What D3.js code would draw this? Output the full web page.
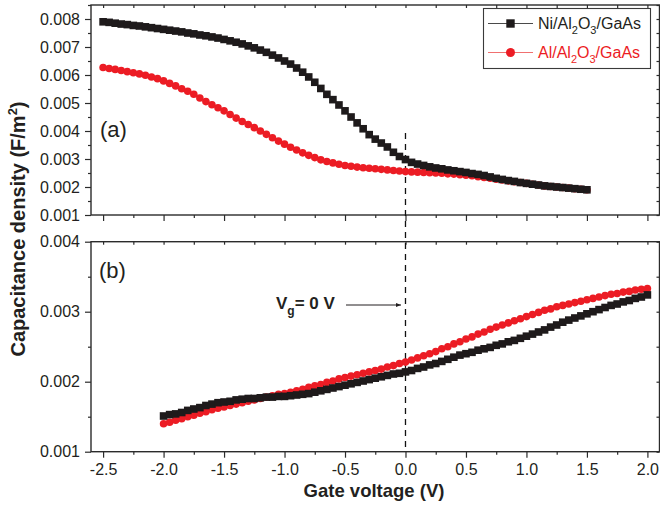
<!DOCTYPE html>
<html>
<head>
<meta charset="utf-8">
<script src="https://cdn.jsdelivr.net/npm/d3@7"></script>
<style>
  html, body { margin: 0; padding: 0; background: #fff; }
  svg { display: block; font-family: "Liberation Sans", Arial, sans-serif; }
</style>
</head>
<body>
<svg id="chart" width="660" height="506"></svg>
<script>
// Gate voltage sweeps (V)
const voltageA = [-2.50,-2.45,-2.40,-2.35,-2.30,-2.25,-2.20,-2.15,-2.10,-2.05,-2.00,-1.95,-1.90,-1.85,-1.80,-1.75,-1.70,-1.65,-1.60,-1.55,-1.50,-1.45,-1.40,-1.35,-1.30,-1.25,-1.20,-1.15,-1.10,-1.05,-1.00,-0.95,-0.90,-0.85,-0.80,-0.75,-0.70,-0.65,-0.60,-0.55,-0.50,-0.45,-0.40,-0.35,-0.30,-0.25,-0.20,-0.15,-0.10,-0.05,0.00,0.05,0.10,0.15,0.20,0.25,0.30,0.35,0.40,0.45,0.50,0.55,0.60,0.65,0.70,0.75,0.80,0.85,0.90,0.95,1.00,1.05,1.10,1.15,1.20,1.25,1.30,1.35,1.40,1.45,1.50];
const voltageB = [-2.00,-1.95,-1.90,-1.85,-1.80,-1.75,-1.70,-1.65,-1.60,-1.55,-1.50,-1.45,-1.40,-1.35,-1.30,-1.25,-1.20,-1.15,-1.10,-1.05,-1.00,-0.95,-0.90,-0.85,-0.80,-0.75,-0.70,-0.65,-0.60,-0.55,-0.50,-0.45,-0.40,-0.35,-0.30,-0.25,-0.20,-0.15,-0.10,-0.05,0.00,0.05,0.10,0.15,0.20,0.25,0.30,0.35,0.40,0.45,0.50,0.55,0.60,0.65,0.70,0.75,0.80,0.85,0.90,0.95,1.00,1.05,1.10,1.15,1.20,1.25,1.30,1.35,1.40,1.45,1.50,1.55,1.60,1.65,1.70,1.75,1.80,1.85,1.90,1.95,2.00];

// Panel (a): capacitance density (F/m^2)
const niA = [0.00790,0.00788,0.00785,0.00782,0.00780,0.00777,0.00775,0.00772,0.00769,0.00766,0.00763,0.00760,0.00757,0.00754,0.00750,0.00747,0.00743,0.00740,0.00736,0.00732,0.00727,0.00722,0.00717,0.00711,0.00704,0.00697,0.00689,0.00681,0.00671,0.00661,0.00650,0.00639,0.00625,0.00610,0.00593,0.00574,0.00552,0.00531,0.00512,0.00493,0.00472,0.00450,0.00429,0.00408,0.00387,0.00371,0.00357,0.00343,0.00324,0.00309,0.00298,0.00288,0.00282,0.00277,0.00272,0.00268,0.00265,0.00261,0.00258,0.00255,0.00252,0.00248,0.00245,0.00241,0.00236,0.00231,0.00227,0.00223,0.00220,0.00216,0.00213,0.00210,0.00207,0.00204,0.00202,0.00200,0.00198,0.00196,0.00194,0.00192,0.00190];
const alA = [0.00627,0.00623,0.00620,0.00616,0.00612,0.00608,0.00604,0.00599,0.00593,0.00587,0.00579,0.00570,0.00561,0.00551,0.00542,0.00531,0.00518,0.00505,0.00494,0.00483,0.00472,0.00459,0.00446,0.00434,0.00423,0.00412,0.00400,0.00388,0.00376,0.00364,0.00353,0.00342,0.00332,0.00322,0.00313,0.00305,0.00297,0.00291,0.00286,0.00281,0.00277,0.00274,0.00271,0.00269,0.00267,0.00265,0.00263,0.00261,0.00259,0.00257,0.00255,0.00254,0.00253,0.00252,0.00251,0.00250,0.00249,0.00247,0.00246,0.00244,0.00242,0.00240,0.00237,0.00234,0.00231,0.00228,0.00225,0.00222,0.00219,0.00216,0.00213,0.00210,0.00207,0.00204,0.00202,0.00200,0.00198,0.00196,0.00194,0.00192,0.00190];

// Panel (b): capacitance density (F/m^2)
const niB = [0.00151,0.00153,0.00154,0.00156,0.00159,0.00161,0.00163,0.00166,0.00168,0.00170,0.00171,0.00172,0.00174,0.00175,0.00176,0.00176,0.00177,0.00178,0.00178,0.00179,0.00179,0.00180,0.00181,0.00182,0.00183,0.00185,0.00187,0.00189,0.00191,0.00193,0.00195,0.00197,0.00199,0.00201,0.00203,0.00205,0.00207,0.00209,0.00211,0.00212,0.00214,0.00216,0.00219,0.00221,0.00224,0.00226,0.00229,0.00232,0.00235,0.00238,0.00240,0.00242,0.00245,0.00247,0.00249,0.00252,0.00254,0.00257,0.00259,0.00262,0.00265,0.00268,0.00271,0.00274,0.00278,0.00281,0.00285,0.00288,0.00291,0.00294,0.00297,0.00300,0.00303,0.00306,0.00309,0.00311,0.00314,0.00316,0.00319,0.00321,0.00324];
const alB = [0.00140,0.00142,0.00145,0.00147,0.00150,0.00152,0.00155,0.00157,0.00160,0.00162,0.00164,0.00166,0.00168,0.00170,0.00172,0.00174,0.00176,0.00178,0.00180,0.00182,0.00183,0.00185,0.00187,0.00189,0.00192,0.00194,0.00196,0.00199,0.00201,0.00204,0.00206,0.00208,0.00210,0.00212,0.00214,0.00216,0.00218,0.00221,0.00223,0.00226,0.00228,0.00231,0.00234,0.00237,0.00240,0.00243,0.00247,0.00250,0.00254,0.00257,0.00261,0.00264,0.00268,0.00271,0.00275,0.00278,0.00281,0.00284,0.00287,0.00290,0.00293,0.00296,0.00299,0.00302,0.00304,0.00307,0.00309,0.00311,0.00313,0.00315,0.00317,0.00319,0.00321,0.00323,0.00325,0.00326,0.00328,0.00329,0.00331,0.00332,0.00333];

// Tick values
const xTicks = [-2.5,-2.0,-1.5,-1.0,-0.5,0.0,0.5,1.0,1.5,2.0];
const xMinor = [-2.25,-1.75,-1.25,-0.75,-0.25,0.25,0.75,1.25,1.75];
const yTicksA = [0.001,0.002,0.003,0.004,0.005,0.006,0.007,0.008];
const yMinorA = [0.0015,0.0025,0.0035,0.0045,0.0055,0.0065,0.0075,0.0085];
const yTicksB = [0.001,0.002,0.003,0.004];
const yMinorB = [0.0015,0.0025,0.0035];

const seriesNames = ["Ni/Al|2|O|3|/GaAs", "Al/Al|2|O|3|/GaAs"];
const BLACK = "#1e1a1b", RED = "#ec1c24", FRAME = "#2b2b2b";

const svg = d3.select("#chart");
const FONT = "'Liberation Sans', Arial, sans-serif";

const left = 91, right = 659.5;
const x = d3.scaleLinear().domain([-2.6, 2.1]).range([left, right]);
const yA = d3.scaleLinear().domain([0.001, 0.0085]).range([215, 5]);
const yB = d3.scaleLinear().domain([0.001, 0.004]).range([451.7, 241.7]);

function drawPanel(y, yTicks, yMinor, showXLabels) {
  const [y0, y1] = y.range();
  const g = svg.append("g");
  // left axis (outward ticks)
  const la = g.append("g").attr("transform", `translate(${left},0)`)
    .call(d3.axisLeft(y).tickValues(yTicks).tickSize(6).tickPadding(5)
      .tickFormat(d3.format(".3f")));
  la.select(".domain").remove();
  la.selectAll("text").attr("font-size", 16).attr("font-family", FONT).attr("fill", "#231f20");
  const lm = g.append("g").attr("transform", `translate(${left},0)`)
    .call(d3.axisLeft(y).tickValues(yMinor).tickSize(3).tickFormat(""));
  lm.select(".domain").remove();
  // right axis (inward ticks)
  const ra = g.append("g").attr("transform", `translate(${right},0)`)
    .call(d3.axisLeft(y).tickValues(yTicks.concat(yMinor)).tickSize(3).tickFormat(""));
  ra.select(".domain").remove();
  // bottom axis (outward ticks)
  const ba = g.append("g").attr("transform", `translate(0,${y0})`)
    .call(d3.axisBottom(x).tickValues(xTicks).tickSize(6).tickPadding(6)
      .tickFormat(showXLabels ? d3.format(".1f") : ""));
  ba.select(".domain").remove();
  ba.selectAll("text").attr("font-size", 16).attr("font-family", FONT).attr("fill", "#231f20")
    .text(d => showXLabels ? d3.format(".1f")(d).replace("−", "-") : "");
  const bm = g.append("g").attr("transform", `translate(0,${y0})`)
    .call(d3.axisBottom(x).tickValues(xMinor).tickSize(3).tickFormat(""));
  bm.select(".domain").remove();
  // top axis (inward ticks)
  const ta = g.append("g").attr("transform", `translate(0,${y1})`)
    .call(d3.axisBottom(x).tickValues(xTicks.concat(xMinor)).tickSize(3).tickFormat(""));
  ta.select(".domain").remove();
  g.selectAll(".tick line").attr("stroke", FRAME).attr("stroke-width", 1.2);
  // frame
  g.append("rect").attr("x", left).attr("y", y1).attr("width", right - left).attr("height", y0 - y1)
    .attr("fill", "none").attr("stroke", FRAME).attr("stroke-width", 1.4);
}

drawPanel(yA, yTicksA, yMinorA, false);
drawPanel(yB, yTicksB, yMinorB, true);

// Vg = 0 V reference line through both panels
svg.append("line")
  .attr("x1", x(0)).attr("x2", x(0)).attr("y1", 133).attr("y2", yB.range()[0])
  .attr("stroke", "#111").attr("stroke-width", 1.3).attr("stroke-dasharray", "6,5");

function drawSeries(volts, vals, y, color, shape) {
  const pts = volts.map((v, i) => [v, vals[i]]);
  const g = svg.append("g");
  g.append("path").datum(pts)
    .attr("d", d3.line().x(d => x(d[0])).y(d => y(d[1])))
    .attr("fill", "none").attr("stroke", color).attr("stroke-width", 1);
  if (shape === "square") {
    g.selectAll("rect").data(pts).join("rect")
      .attr("x", d => x(d[0]) - 3.8).attr("y", d => y(d[1]) - 3.8)
      .attr("width", 7.6).attr("height", 7.6).attr("fill", color);
  } else {
    g.selectAll("circle").data(pts).join("circle")
      .attr("cx", d => x(d[0])).attr("cy", d => y(d[1])).attr("r", 3.8).attr("fill", color);
  }
}

drawSeries(voltageA, alA, yA, RED, "circle");
drawSeries(voltageA, niA, yA, BLACK, "square");
drawSeries(voltageB, alB, yB, RED, "circle");
drawSeries(voltageB, niB, yB, BLACK, "square");

// Panel labels
svg.append("text").attr("x", 100).attr("y", 137).attr("font-size", 22).attr("font-family", FONT)
  .attr("fill", "#231f20").text("(a)");
svg.append("text").attr("x", 99).attr("y", 278).attr("font-size", 22).attr("font-family", FONT)
  .attr("fill", "#231f20").text("(b)");

// Annotation: Vg = 0 V with arrow
const ann = svg.append("text").attr("x", 276).attr("y", 308.5).attr("font-size", 17)
  .attr("font-weight", "bold").attr("font-family", FONT).attr("fill", "#231f20");
ann.append("tspan").text("V");
ann.append("tspan").attr("font-size", 12).attr("dy", 6).text("g");
ann.append("tspan").attr("dy", -6).text("= 0 V");
svg.append("defs").append("marker").attr("id", "arrowhead")
  .attr("viewBox", "0 0 10 10").attr("refX", 10).attr("refY", 5)
  .attr("markerWidth", 6).attr("markerHeight", 5).attr("orient", "auto")
  .attr("markerUnits", "userSpaceOnUse")
  .append("path").attr("d", "M0,1 L10,5 L0,9 Z").attr("fill", "#231f20");
svg.append("line").attr("x1", 346).attr("x2", 401).attr("y1", 305).attr("y2", 305)
  .attr("stroke", "#231f20").attr("stroke-width", 1).attr("marker-end", "url(#arrowhead)");

// Legend
const lg = svg.append("g");
lg.append("rect").attr("x", 483.5).attr("y", 8.5).attr("width", 167).attr("height", 60)
  .attr("fill", "#fff").attr("stroke", "#3a3a3a").attr("stroke-width", 1.1);
const legendRows = [
  { name: seriesNames[0], color: BLACK, lineColor: "#4a4a4a", shape: "square", y: 23.5 },
  { name: seriesNames[1], color: RED, lineColor: "#f07070", shape: "circle", y: 52.5 }
];
legendRows.forEach(r => {
  lg.append("line").attr("x1", 488).attr("x2", 533).attr("y1", r.y).attr("y2", r.y)
    .attr("stroke", r.lineColor).attr("stroke-width", 1.2);
  if (r.shape === "square") {
    lg.append("rect").attr("x", 510.5 - 4.2).attr("y", r.y - 4.2).attr("width", 8.4).attr("height", 8.4).attr("fill", r.color);
  } else {
    lg.append("circle").attr("cx", 510.5).attr("cy", r.y).attr("r", 4.5).attr("fill", r.color);
  }
  const t = lg.append("text").attr("x", 538).attr("y", r.y + 5.5).attr("font-size", 16)
    .attr("font-family", FONT).attr("fill", r.color === RED ? RED : "#231f20");
  r.name.split("|").forEach((part, i) => {
    const sub = i % 2 === 1;
    t.append("tspan").attr("font-size", sub ? 11 : 16)
      .attr("dy", i === 0 ? 0 : (sub ? 5 : -5)).text(part);
  });
});

// Axis titles
svg.append("text").attr("x", 374).attr("y", 497).attr("text-anchor", "middle")
  .attr("font-size", 18.5).attr("font-weight", "bold").attr("font-family", FONT)
  .attr("fill", "#231f20").text("Gate voltage (V)");
const yt = svg.append("text").attr("transform", "translate(25,229) rotate(-90)")
  .attr("text-anchor", "middle").attr("font-size", 20).attr("font-weight", "bold")
  .attr("font-family", FONT).attr("fill", "#231f20");
yt.append("tspan").text("Capacitance density (F/m");
yt.append("tspan").attr("font-size", 13).attr("dy", -8).text("2");
yt.append("tspan").attr("dy", 8).text(")");
</script>
</body>
</html>
